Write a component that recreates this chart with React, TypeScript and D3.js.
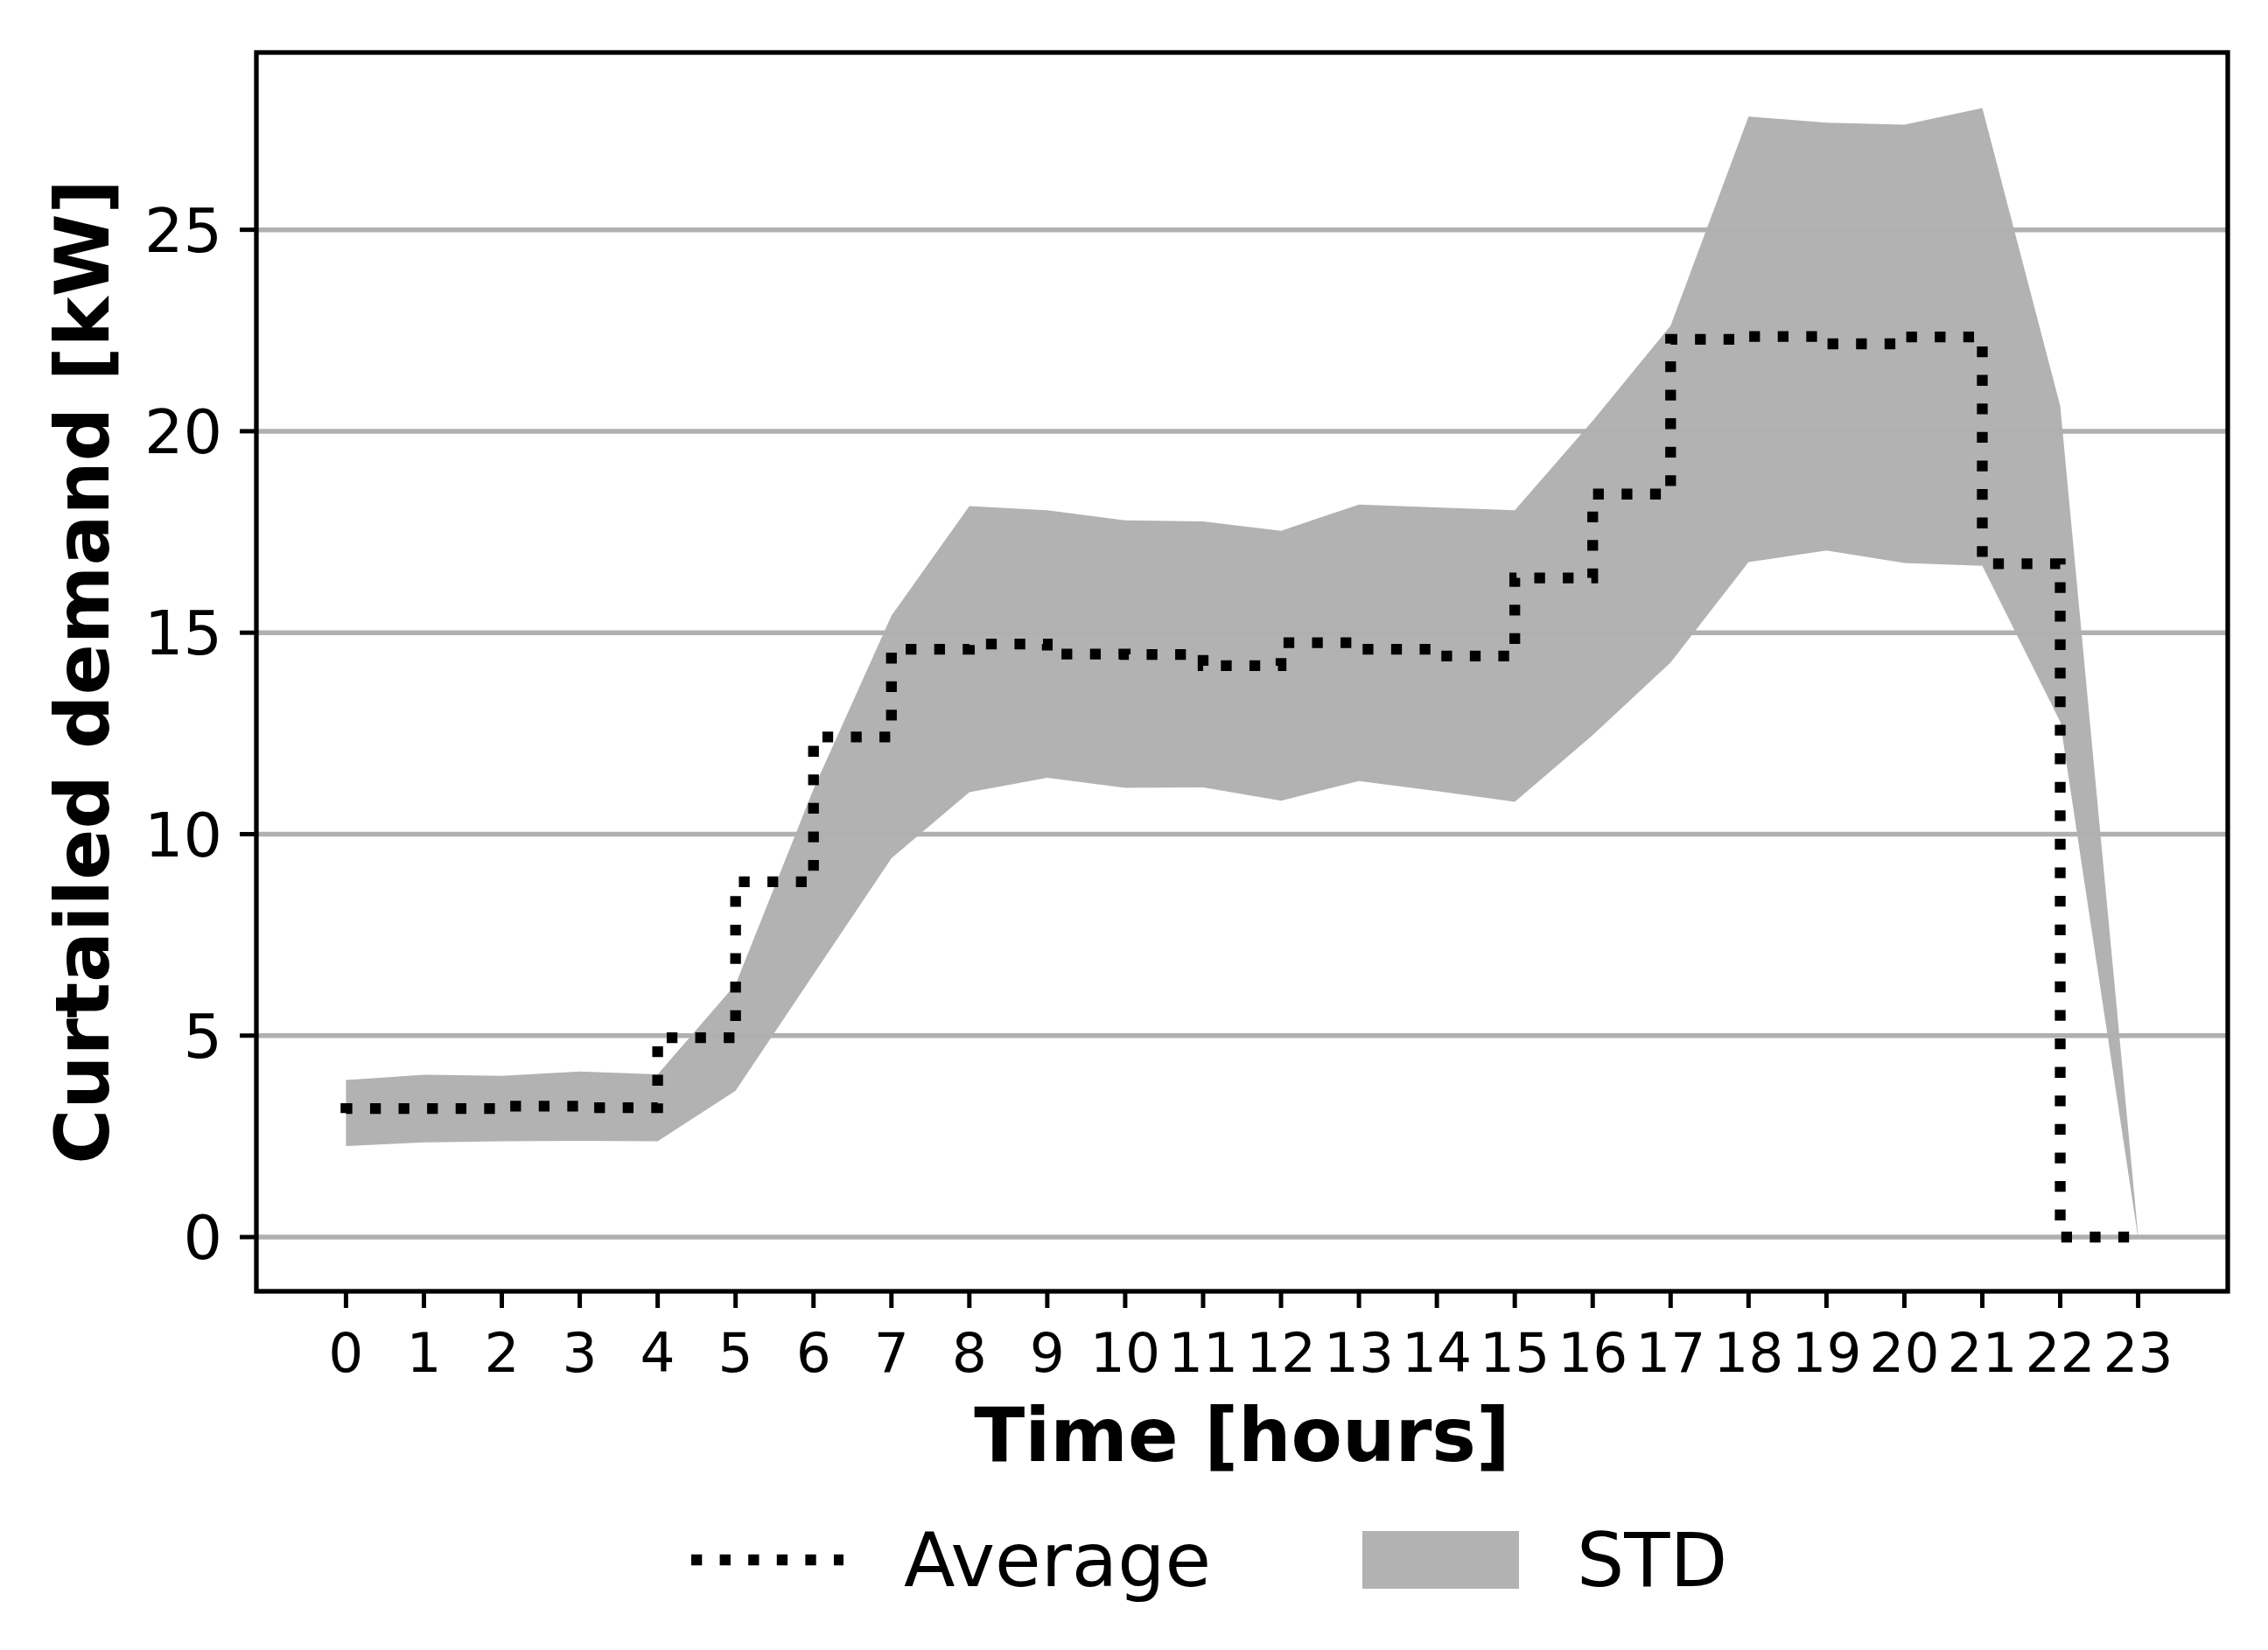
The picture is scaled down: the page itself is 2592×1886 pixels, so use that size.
import React from 'react';
import * as d3 from 'd3';

// hours 0..23
const hours = d3.range(0, 24);
// mean curtailed demand per hour [kW] (drawn as steps-pre)
const average = [
  3.08, 3.19, 3.19, 3.25, 3.21, 4.95, 8.82, 12.41, 14.59, 14.72, 14.47, 14.46,
  14.18, 14.75, 14.59, 14.42, 16.36, 18.44, 22.28, 22.35, 22.17, 22.34, 16.71, 0,
];
// standard deviation per hour [kW]
const std = [
  0.82, 0.84, 0.81, 0.86, 0.83, 1.32, 2.3, 3.01, 3.55, 3.32, 3.32, 3.3,
  3.35, 3.43, 3.52, 3.62, 3.9, 4.18, 5.53, 5.31, 5.44, 5.68, 3.92, 0.03,
];
const yTicks = [0, 5, 10, 15, 20, 25];

const W = 2592;
const H = 1886;
const margin = { left: 293, right: 46, top: 60, bottom: 410 };
const FONT = 'DejaVu Sans';

const App: React.FC = () => {
  const x = d3
    .scaleLinear()
    .domain([-1.15, 24.15])
    .range([margin.left, W - margin.right]);
  const y = d3
    .scaleLinear()
    .domain([-1.346, 29.4])
    .range([H - margin.bottom, margin.top]);

  const band = d3
    .area<number>()
    .x((h) => x(h))
    .y0((h, i) => y(average[i] - std[i]))
    .y1((h, i) => y(average[i] + std[i]));

  const line = d3
    .line<number>()
    .x((h) => x(h))
    .y((h, i) => y(average[i]))
    .curve(d3.curveStepBefore);

  const x0 = margin.left;
  const x1 = W - margin.right;
  const yTop = margin.top;
  const yBot = H - margin.bottom;
  const lw = 12.3;

  return (
    <div>
      <style>{`body{margin:0}`}</style>
      <svg width={W} height={H} style={{ display: 'block', background: '#fff' }} fontFamily={FONT}>
        <rect x={0} y={0} width={W} height={H} fill="#fff" />

        {/* std band */}
        <path d={band(hours) ?? ''} fill="#b2b2b2" stroke="none" />

        {/* horizontal grid */}
        {yTicks.map((t) => (
          <line key={`g${t}`} x1={x0} x2={x1} y1={y(t)} y2={y(t)} stroke="#b0b0b0" strokeWidth={5.5} />
        ))}

        {/* average, dotted step line */}
        <path
          d={line(hours) ?? ''}
          fill="none"
          stroke="#000"
          strokeWidth={lw}
          strokeDasharray={`${lw} ${lw * 1.65}`}
          strokeLinecap="butt"
        />

        {/* spines */}
        <rect x={x0} y={yTop} width={x1 - x0} height={yBot - yTop} fill="none" stroke="#000" strokeWidth={5.3} />

        {/* y ticks */}
        {yTicks.map((t) => (
          <g key={`y${t}`}>
            <line x1={x0 - 19} x2={x0} y1={y(t)} y2={y(t)} stroke="#000" strokeWidth={5} />
            <text x={254} y={y(t)} dy="0.36em" textAnchor="end" fontSize={70}>
              {t}
            </text>
          </g>
        ))}

        {/* x ticks */}
        {hours.map((h) => (
          <g key={`x${h}`}>
            <line x1={x(h)} x2={x(h)} y1={yBot} y2={yBot + 19} stroke="#000" strokeWidth={5} />
            <text x={x(h)} y={1568} textAnchor="middle" fontSize={63}>
              {h}
            </text>
          </g>
        ))}

        {/* axis labels */}
        <text x={(x0 + x1) / 2} y={1670} textAnchor="middle" fontSize={85} fontWeight="bold">
          Time [hours]
        </text>
        <text
          transform={`translate(124, ${(yTop + yBot) / 2}) rotate(-90)`}
          textAnchor="middle"
          fontSize={86}
          fontWeight="bold"
        >
          Curtailed demand [kW]
        </text>

        {/* legend */}
        <line
          x1={790}
          x2={964}
          y1={1783}
          y2={1783}
          stroke="#000"
          strokeWidth={lw}
          strokeDasharray={`${lw} ${lw * 1.65}`}
        />
        <text x={1033} y={1813} fontSize={85.5}>
          Average
        </text>
        <rect x={1557} y={1750} width={179} height={66} fill="#b2b2b2" />
        <text x={1802} y={1813} fontSize={85.5}>
          STD
        </text>
      </svg>
    </div>
  );
};

export default App;
